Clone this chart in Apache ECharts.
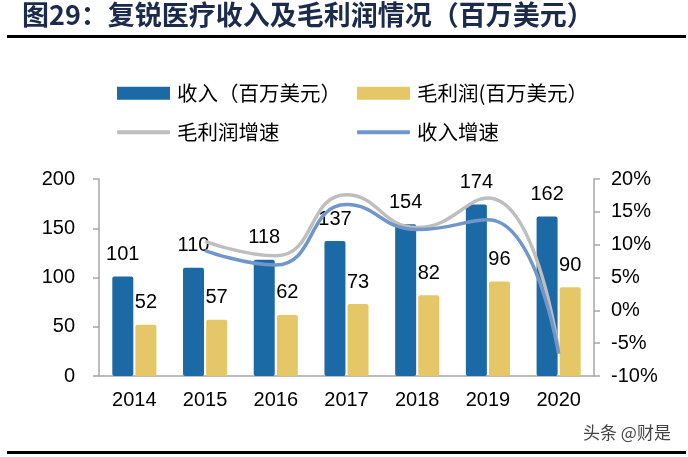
<!DOCTYPE html>
<html>
<head>
<meta charset="utf-8">
<script src="https://cdn.jsdelivr.net/npm/echarts@6/dist/echarts.min.js"></script>
<style>
html,body{margin:0;padding:0;background:#fff;}
#c{width:688px;height:457px;}
</style>
</head>
<body>
<div id="c"></div>
<script>
const years = ['2014','2015','2016','2017','2018','2019','2020'];
const revenue = [101,110,118,137,154,174,162];
const grossProfit = [52,57,62,73,82,96,90];
const gpGrowth = [null,10.5,8.3,17.6,12.6,17.1,-6.2];
const revGrowth = [null,9.1,6.9,16.1,12.3,13.8,-6.6];
const names = ['收入（百万美元）','毛利润(百万美元）','毛利润增速','收入增速'];
const titleText = '图29：复锐医疗收入及毛利润情况（百万美元）';
const watermark = '头条 @财是';

const cBlue = '#1B6AA5', cGold = '#E5C767', cGray = '#BEBEBE', cLBlue = '#7196C9';
const axisGray = '#A6A6A6';
const numFont = 'Liberation Sans, Arial, sans-serif';
const cjkFont = 'Noto Sans CJK SC, sans-serif';

const chart = echarts.init(document.getElementById('c'));
function lg(name, left, top, icon, h){
  return {data:[{name:name, icon:icon}], left:left, top:top, padding:0, itemWidth:53, itemHeight:h,
    textStyle:{fontFamily:cjkFont, fontSize:20.5, color:'#000', padding:[0,0,0,2]}, selectedMode:false};
}
chart.setOption({
  animation:false,
  backgroundColor:'#fff',
  title:{text:titleText, left:22, top:1, padding:0,
    textStyle:{fontFamily:cjkFont, fontSize:27, fontWeight:'bold', color:'#1C2B4C'}},
  graphic:[
    {type:'rect', shape:{x:7,y:35,width:679,height:3}, style:{fill:'#000'}},
    {type:'rect', shape:{x:7,y:451,width:679,height:3}, style:{fill:'#000'}},
    {type:'text', left:583, top:424, style:{text:watermark, fontFamily:cjkFont, fontSize:17, fill:'#444'}}
  ],
  legend:[
    lg(names[0],117,83,'rect',13),
    lg(names[1],357,83,'rect',13),
    lg(names[2],117,122,'roundRect',4),
    lg(names[3],357,122,'roundRect',4)
  ],
  grid:{left:99,right:94,top:179,bottom:81},
  xAxis:{type:'category', data:years,
    axisLine:{lineStyle:{color:axisGray,width:1.5}}, axisTick:{show:false},
    axisLabel:{fontFamily:numFont, fontSize:20, color:'#000', margin:14}},
  yAxis:[
    {type:'value', min:0, max:200, interval:50, splitLine:{show:false},
     axisLine:{show:true, lineStyle:{color:axisGray,width:1.5}},
     axisTick:{show:true, length:6, lineStyle:{color:axisGray,width:1.5}},
     axisLabel:{fontFamily:numFont, fontSize:20, color:'#000', margin:24}},
    {type:'value', min:-10, max:20, interval:5, splitLine:{show:false},
     axisLine:{show:true, lineStyle:{color:axisGray,width:1.5}},
     axisTick:{show:true, length:6, lineStyle:{color:axisGray,width:1.5}},
     axisLabel:{fontFamily:numFont, fontSize:20, color:'#000', margin:17, formatter:'{value}%'}}
  ],
  series:[
    {name:names[0], type:'bar', data:revenue, barWidth:21, barGap:'10%',
     itemStyle:{color:cBlue, borderRadius:2},
     label:{show:true, position:'top', distance:12, fontFamily:numFont, fontSize:20, color:'#000'}},
    {name:names[1], type:'bar', data:grossProfit, barWidth:21, barGap:'10%',
     itemStyle:{color:cGold, borderRadius:2},
     label:{show:true, position:'top', distance:12, fontFamily:numFont, fontSize:20, color:'#000'}},
    {name:names[2], type:'line', yAxisIndex:1, data:gpGrowth, smooth:true, showSymbol:false, symbol:'none',
     lineStyle:{color:cGray, width:3.5}, itemStyle:{color:cGray}},
    {name:names[3], type:'line', yAxisIndex:1, data:revGrowth, smooth:true, showSymbol:false, symbol:'none',
     lineStyle:{color:cLBlue, width:3.5}, itemStyle:{color:cLBlue}}
  ]
});
</script>
</body>
</html>
